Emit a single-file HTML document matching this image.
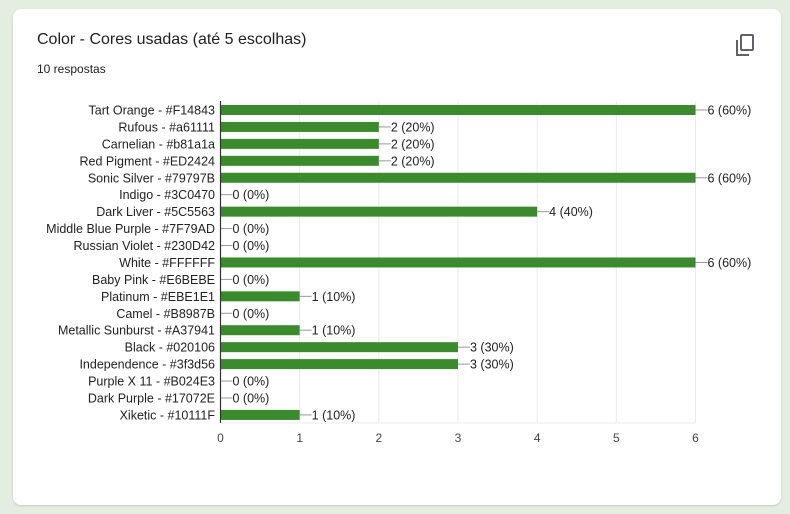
<!DOCTYPE html>
<html><head><meta charset="utf-8"><style>
body{margin:0;width:790px;height:514px;background:#e3ede0;font-family:"Liberation Sans",sans-serif;overflow:hidden}
#card{position:absolute;left:13px;top:9px;width:768px;height:496px;background:#fff;border-radius:8px;box-shadow:0 1px 2px rgba(0,0,0,.15)}
#title{position:absolute;left:24px;top:22px;font-size:16px;color:#202124}
#sub{position:absolute;left:24px;top:53px;font-size:12px;color:#202124}
svg{position:absolute;left:0;top:0}
</style></head><body>
<div id="card">
<div id="title">Color - Cores usadas (até 5 escolhas)</div>
<div id="sub">10 respostas</div>
</div>
<svg width="790" height="514" id="chart">
<g fill="none" stroke="#5f6368" stroke-width="2">
<rect x="741" y="35" width="12" height="15" rx="1"/><path d="M737 40 V55 H749"/>
</g>
</svg>
<script>
const categories=["Tart Orange - #F14843","Rufous - #a61111","Carnelian - #b81a1a","Red Pigment - #ED2424","Sonic Silver - #79797B","Indigo - #3C0470","Dark Liver - #5C5563","Middle Blue Purple - #7F79AD","Russian Violet - #230D42","White - #FFFFFF","Baby Pink - #E6BEBE","Platinum - #EBE1E1","Camel - #B8987B","Metallic Sunburst - #A37941","Black - #020106","Independence - #3f3d56","Purple X 11 - #B024E3","Dark Purple - #17072E","Xiketic - #10111F"];
const values=[6,2,2,2,6,0,4,0,0,6,0,1,0,1,3,3,0,0,1];
const total=10;
const ticks=[0,1,2,3,4,5,6];
const svgEl=document.getElementById('chart');
const NS='http://www.w3.org/2000/svg';
const x0=220.5,x1=695.5,xmax=6,y0=110,step=16.94,gtop=101,gbot=423;
const X=v=>x0+(x1-x0)*v/xmax, Y=i=>y0+i*step;
function mk(t,a){const e=document.createElementNS(NS,t);for(const k in a)e.setAttribute(k,a[k]);svgEl.appendChild(e);return e;}
ticks.forEach(t=>{
 const g=mk('line',{x1:X(t),x2:X(t),y1:gtop,y2:gbot,stroke:'#ebebeb'});
 
 
 const l=mk('text',{x:X(t),y:442,'text-anchor':'middle','font-size':12,fill:'#444'});
 l.textContent=t;
 
 
});
const bl=mk('line',{x1:x0,x2:x1,y1:gbot,y2:gbot,stroke:'#ebebeb'});


categories.forEach((c,i)=>{
 const y=Y(i),v=values[i];
 const t=mk('text',{x:215,y:y+4.5,'text-anchor':'end','font-size':12.5,fill:'#222'});
 t.textContent=c;
 
 
 if(v>0){const b=mk('rect',{x:x0,y:y-5,width:X(v)-x0,height:10,fill:'#3b8a2e'});
 
 }
 const ln=mk('line',{x1:X(v),x2:X(v)+12,y1:y,y2:y,stroke:'#999'});
 
 
 const vl=mk('text',{x:X(v)+12,y:y+4.5,'font-size':12.5,fill:'#222'});
 vl.textContent=v+' ('+Math.round(v/total*100)+'%)';
 
 
});
const ax=mk('line',{x1:x0,x2:x0,y1:gtop,y2:gbot,stroke:'#333','stroke-width':1.2});


</script>
</body></html>
